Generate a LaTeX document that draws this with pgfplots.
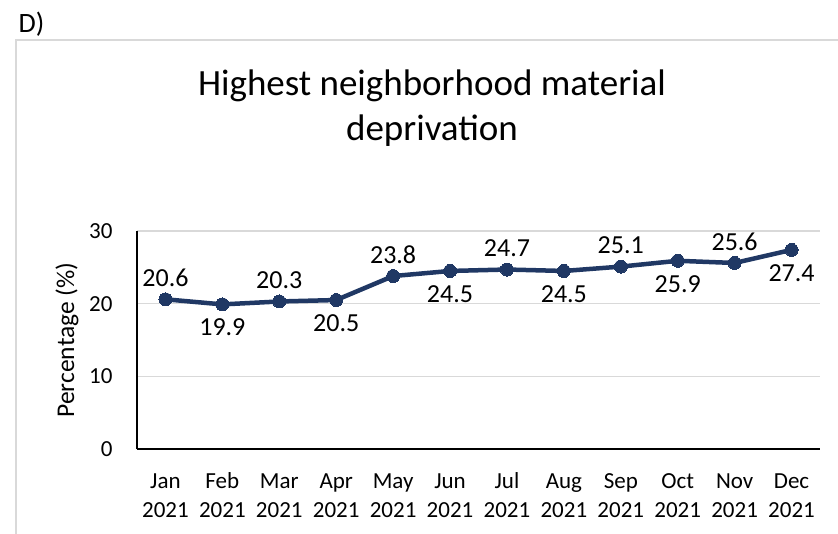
\documentclass[border=0pt]{standalone}
\usepackage{fontspec}
\setmainfont{Carlito}
\usepackage{pgfplots}
\pgfplotsset{compat=1.18}
\definecolor{navy}{HTML}{203864}
\definecolor{gridgray}{HTML}{D9D9D9}
\definecolor{framegray}{HTML}{D9D9D9}
\begin{document}
\begin{tikzpicture}[x=1pt,y=1pt]
\useasboundingbox (0,0) rectangle (838,-534);
\draw[framegray, line width=1.5pt] (16,-540) -- (16,-40) -- (845,-40);
\node[anchor=west, font=\fontsize{28}{32}\selectfont] at (15,-24) {D)};
\node[align=center, font=\fontsize{37}{45}\selectfont] at (432,-108) {Highest neighborhood material\\deprivation};
\begin{axis}[
  at={(137pt,-449pt)}, anchor=south west,
  scale only axis, width=683pt, height=218pt,
  xmin=-0.5, xmax=11.5, ymin=0, ymax=30,
  ytick={0,10,20,30},
  xtick={0,...,11},
  xticklabels={{\strut Jan\\\strut 2021},{\strut Feb\\\strut 2021},{\strut Mar\\\strut 2021},{\strut Apr\\\strut 2021},{\strut May\\\strut 2021},{\strut Jun\\\strut 2021},{\strut Jul\\\strut 2021},{\strut Aug\\\strut 2021},{\strut Sep\\\strut 2021},{\strut Oct\\\strut 2021},{\strut Nov\\\strut 2021},{\strut Dec\\\strut 2021}},
  xticklabel style={align=center, font=\fontsize{23}{29}\selectfont, yshift=-16pt},
  yticklabel style={font=\fontsize{23}{26}\selectfont, xshift=-21pt},
  /pgf/number format/assume math mode=true,
  ymajorgrids, grid style={gridgray, line width=1.2pt},
  axis x line*=bottom, axis y line*=left,
  axis line style={black, line width=1.2pt, -},
  major tick length=0pt,
  xtick pos=bottom, ytick pos=left,
  ylabel={Percentage (\%)},
  every axis y label/.style={at={(rel axis cs:0,0.5)}, xshift=-70pt, rotate=90, font=\fontsize{25.5}{30}\selectfont},
  clip=false,
]
\addplot[navy, line width=4.5pt, mark=*, mark size=6.5pt, mark options={fill=navy, draw=navy, line width=0pt}] coordinates {
(0,20.6) (1,19.9) (2,20.3) (3,20.5) (4,23.8) (5,24.5) (6,24.7) (7,24.5) (8,25.1) (9,25.9) (10,25.6) (11,27.4)};
\addplot[draw=none, mark=none, nodes near coords, point meta=explicit symbolic,
  every node near coord/.style={anchor=south, yshift=9pt, font=\fontsize{26}{30}\selectfont, text=black}] coordinates {
(0,20.6) [20.6] (2,20.3) [20.3] (4,23.8) [23.8] (6,24.7) [24.7] (8,25.1) [25.1] (10,25.6) [25.6]};
\addplot[draw=none, mark=none, nodes near coords, point meta=explicit symbolic,
  every node near coord/.style={anchor=north, yshift=-11pt, font=\fontsize{26}{30}\selectfont, text=black}] coordinates {
(1,19.9) [19.9] (3,20.5) [20.5] (5,24.5) [24.5] (7,24.5) [24.5] (9,25.9) [25.9] (11,27.4) [27.4]};
\end{axis}
\end{tikzpicture}
\end{document}
